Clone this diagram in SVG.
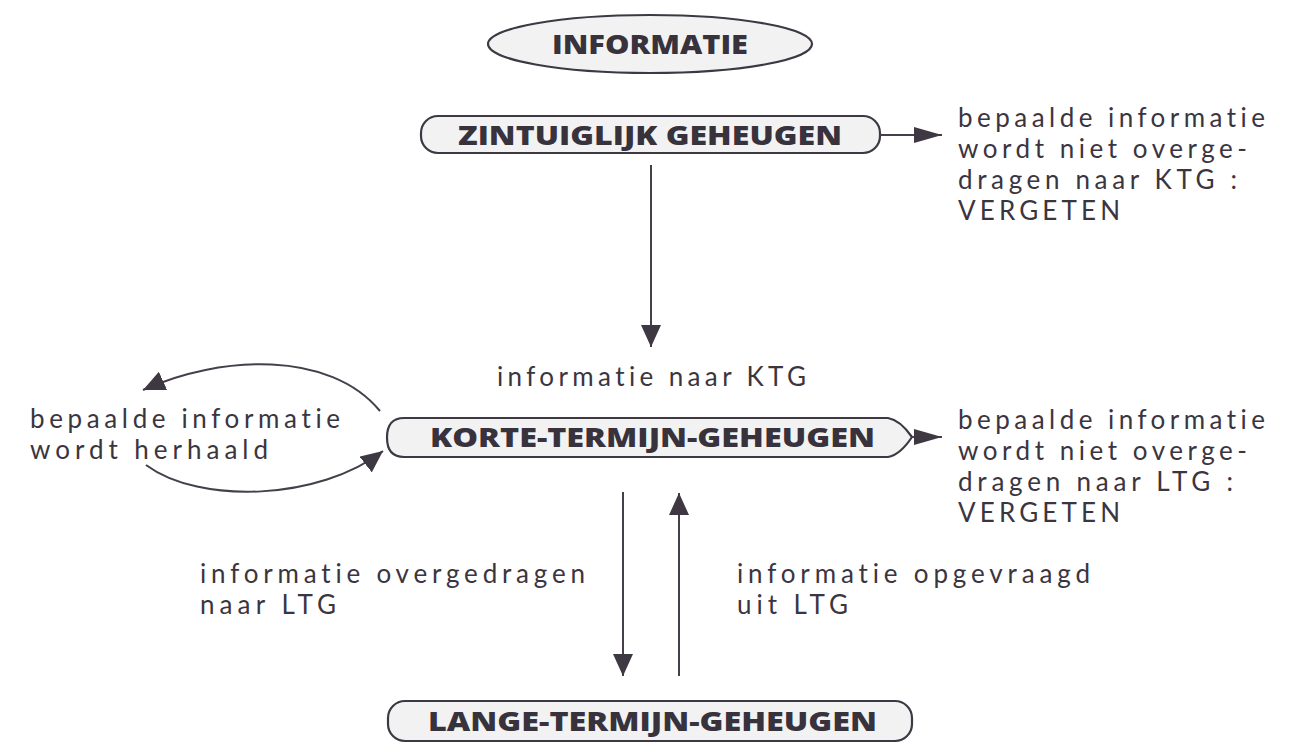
<svg xmlns="http://www.w3.org/2000/svg" width="1310" height="755" viewBox="0 0 1310 755">
<style>
.box{fill:#f3f2f3;stroke:#3e3843;stroke-width:2.2}
.lbl{font-family:"Open Sans","Liberation Sans",sans-serif;font-weight:800;font-size:26px;fill:#38323d}
.txt{font-family:Lato,"Open Sans","Liberation Sans",sans-serif;font-size:26px;fill:#3b3540;font-variant-ligatures:none;font-feature-settings:"liga" 0,"clig" 0,"dlig" 0}
.ln{fill:none;stroke:#453f4a;stroke-width:2}
</style>
<defs>
<marker id="ah" markerUnits="userSpaceOnUse" markerWidth="24" markerHeight="20" refX="22" refY="10" orient="auto">
<path d="M0,0 L22,10 L0,20 Z" fill="#3e3843"/>
</marker>
<marker id="ahr" markerUnits="userSpaceOnUse" markerWidth="30" markerHeight="16" refX="28" refY="8" orient="auto">
<path d="M0,0 L28,8 L0,16 Z" fill="#3e3843"/>
</marker>
</defs>
<rect width="1310" height="755" fill="#ffffff"/>
<g id="informatie">
<ellipse class="box" cx="650" cy="44" rx="162" ry="29"/>
<text class="lbl" x="552" y="54" textLength="196" lengthAdjust="spacingAndGlyphs">INFORMATIE</text>
</g>
<g id="zintuiglijk">
<rect class="box" x="421" y="116" width="459" height="37" rx="17"/>
<text class="lbl" x="458" y="145" textLength="384" lengthAdjust="spacingAndGlyphs">ZINTUIGLIJK GEHEUGEN</text>
</g>
<g id="ktg">
<path class="box" d="M404,418 L888,418 Q900,420 912,437 Q900,455 888,457 L404,457 Q387,457 387,437.5 Q387,418 404,418 Z"/>
<text class="lbl" x="430" y="447" textLength="445" lengthAdjust="spacingAndGlyphs">KORTE-TERMIJN-GEHEUGEN</text>
</g>
<g id="ltg">
<rect class="box" x="388" y="701" width="524" height="40" rx="17"/>
<text class="lbl" x="428" y="731" textLength="449" lengthAdjust="spacingAndGlyphs">LANGE-TERMIJN-GEHEUGEN</text>
</g>
<g id="labels">
<text class="txt" x="958" y="127" textLength="307" lengthAdjust="spacing">bepaalde informatie</text>
<text class="txt" x="958" y="158" textLength="289" lengthAdjust="spacing">wordt niet overge-</text>
<text class="txt" x="958" y="189" textLength="279" lengthAdjust="spacing">dragen naar KTG :</text>
<text class="txt" x="958" y="220" textLength="162" lengthAdjust="spacing">VERGETEN</text>
<text class="txt" x="497" y="386" textLength="309" lengthAdjust="spacing">informatie naar KTG</text>
<text class="txt" x="30" y="428" textLength="310" lengthAdjust="spacing">bepaalde informatie</text>
<text class="txt" x="30" y="459" textLength="238" lengthAdjust="spacing">wordt herhaald</text>
<text class="txt" x="958" y="429" textLength="307" lengthAdjust="spacing">bepaalde informatie</text>
<text class="txt" x="958" y="460" textLength="289" lengthAdjust="spacing">wordt niet overge-</text>
<text class="txt" x="958" y="491" textLength="275" lengthAdjust="spacing">dragen naar LTG :</text>
<text class="txt" x="958" y="522" textLength="162" lengthAdjust="spacing">VERGETEN</text>
<text class="txt" x="200" y="583" textLength="385" lengthAdjust="spacing">informatie overgedragen</text>
<text class="txt" x="200" y="614" textLength="136" lengthAdjust="spacing">naar LTG</text>
<text class="txt" x="737" y="583" textLength="353" lengthAdjust="spacing">informatie opgevraagd</text>
<text class="txt" x="737" y="614" textLength="111" lengthAdjust="spacing">uit LTG</text>
</g>
<g id="connectors">
<line class="ln" x1="880" y1="135" x2="942" y2="135" marker-end="url(#ahr)"/>
<line class="ln" x1="651" y1="165" x2="651" y2="347" marker-end="url(#ah)"/>
<line class="ln" x1="912" y1="437" x2="942" y2="437" marker-end="url(#ahr)"/>
<path class="ln" d="M380,411 C330,350 220,355 143,390" marker-end="url(#ah)"/>
<path class="ln" d="M146,465 C200,505 320,500 383,451" marker-end="url(#ah)"/>
<line class="ln" x1="623" y1="492" x2="623" y2="676" marker-end="url(#ah)"/>
<line class="ln" x1="679" y1="676" x2="679" y2="493" marker-end="url(#ah)"/>
</g>
</svg>
